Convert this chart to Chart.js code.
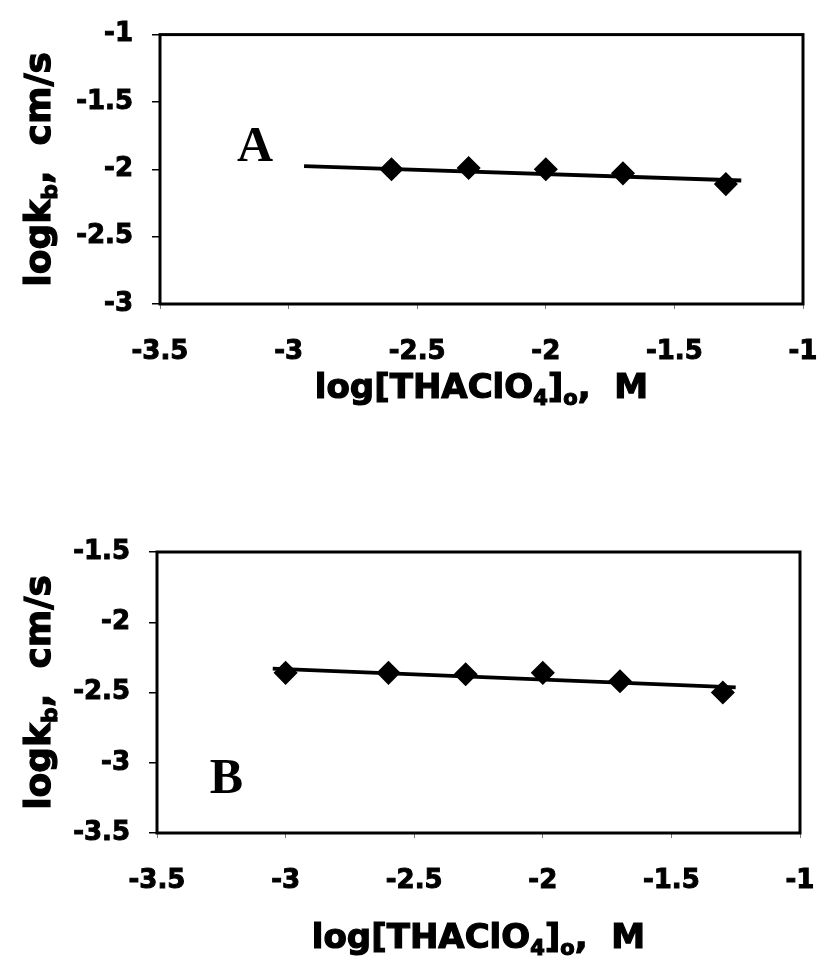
<!DOCTYPE html>
<html>
<head>
<meta charset="utf-8">
<script src="https://cdn.jsdelivr.net/npm/chart.js@4.4.1/dist/chart.umd.min.js"></script>
<style>
html, body { margin: 0; padding: 0; background: #fff; }
#wrap { position: relative; width: 820px; height: 962px; }
.panel { position: absolute; left: 0; width: 820px; }
</style>
</head>
<body>
<div id="wrap">
  <div class="panel" style="top:0;height:430px"><canvas id="chartA"></canvas></div>
  <div class="panel" style="top:480px;height:482px"><canvas id="chartB"></canvas></div>
</div>
<script>
// panel A data
const xA = [-2.6, -2.3, -2.0, -1.7, -1.3];
const yA = [-2.00, -1.99, -2.00, -2.03, -2.11];
const fitXA = [-2.94, -1.24];
const fitYA = [-1.976, -2.083];

// panel B data
const xB = [-3.0, -2.6, -2.3, -2.0, -1.7, -1.3];
const yB = [-2.36, -2.36, -2.37, -2.36, -2.42, -2.50];
const fitXB = [-3.05, -1.25];
const fitYB = [-2.33, -2.464];

// axis ranges / ticks
const xRange = [-3.5, -1];
const yRangeA = [-3, -1];
const yRangeB = [-3.5, -1.5];
const tickStep = 0.5;

const FAM = '"DejaVu Sans", sans-serif';
const xTitle = [{ t: 'log[THAClO' }, { t: '4', sub: true }, { t: ']' }, { t: 'o', sub: true }, { t: ',  M' }];
const yTitle = [{ t: 'logk' }, { t: 'b', sub: true }, { t: ',  cm/s' }];

function drawRich(ctx, parts, cx, baseY, size) {
  const fontOf = p => 'bold ' + Math.round(p.sub ? size * 0.62 : size) + 'px ' + FAM;
  let total = 0;
  parts.forEach(p => { ctx.font = fontOf(p); total += ctx.measureText(p.t).width; });
  let x = cx - total / 2;
  ctx.textAlign = 'left';
  ctx.textBaseline = 'alphabetic';
  ctx.fillStyle = '#000';
  ctx.strokeStyle = '#000';
  ctx.lineWidth = 1.2;
  parts.forEach(p => {
    ctx.font = fontOf(p);
    const y = baseY + (p.sub ? size * 0.2 : 0);
    ctx.fillText(p.t, x, y);
    ctx.strokeText(p.t, x, y);
    x += ctx.measureText(p.t).width;
  });
}

// frame box, panel letter and axis titles
const framePlugin = {
  id: 'frame',
  afterDraw(chart, args, opts) {
    const { ctx, chartArea: a, scales } = chart;
    ctx.save();
    ctx.strokeStyle = '#000';
    ctx.lineWidth = 3;
    ctx.strokeRect(a.left, a.top, a.right - a.left, a.bottom - a.top);

    ctx.font = 'bold 50px "Liberation Serif", serif';
    ctx.fillStyle = '#000';
    ctx.textAlign = 'center';
    ctx.textBaseline = 'middle';
    ctx.fillText(opts.letter, scales.x.getPixelForValue(opts.letterAt[0]), scales.y.getPixelForValue(opts.letterAt[1]));

    drawRich(ctx, xTitle, (a.left + a.right) / 2, opts.xTitleY, 34);

    ctx.translate(opts.yTitleX, (a.top + a.bottom) / 2);
    ctx.rotate(-Math.PI / 2);
    drawRich(ctx, yTitle, 0, 0, 36);
    ctx.restore();
  }
};

function pts(xs, ys) { return xs.map((x, i) => ({ x: x, y: ys[i] })); }
function fmt(v) { return String(Math.round(v * 10) / 10); }

function makeChart(id, xs, ys, fx, fy, yRange, cfg) {
  const tickFont = { family: FAM, weight: 'bold', size: 26 };
  return new Chart(document.getElementById(id), {
    type: 'scatter',
    data: {
      datasets: [
        { data: pts(xs, ys), pointStyle: 'rectRot', pointRadius: 11, backgroundColor: '#000', borderColor: '#000', borderWidth: 1.5, order: 1 },
        { type: 'line', data: pts(fx, fy), borderColor: '#000', borderWidth: 3.8, pointRadius: 0, fill: false, tension: 0, order: 2 }
      ]
    },
    options: {
      responsive: true,
      maintainAspectRatio: false,
      animation: false,
      events: [],
      layout: { padding: { left: 0, right: cfg.padRight, top: cfg.padTop, bottom: 0 } },
      plugins: {
        legend: { display: false },
        tooltip: { enabled: false },
        frame: { letter: cfg.letter, letterAt: cfg.letterAt, xTitleY: cfg.xTitleY, yTitleX: 50 }
      },
      scales: {
        x: {
          type: 'linear', min: xRange[0], max: xRange[1],
          afterFit: s => { s.height = cfg.xAxisH; s.paddingLeft = 0; s.paddingRight = 0; },
          ticks: { stepSize: tickStep, autoSkip: false, maxRotation: 0, padding: 28, color: '#000', font: tickFont,
                   textStrokeColor: '#000', textStrokeWidth: 1, callback: fmt },
          grid: { drawOnChartArea: false, tickLength: 5, color: '#777', lineWidth: 1 },
          border: { display: false }
        },
        y: {
          type: 'linear', min: yRange[0], max: yRange[1],
          afterFit: s => { s.width = cfg.yAxisW; },
          ticks: { stepSize: tickStep, autoSkip: false, padding: 19, color: '#000', font: tickFont,
                   textStrokeColor: '#000', textStrokeWidth: 1, callback: fmt },
          grid: { drawOnChartArea: false, tickLength: 8, color: '#000', lineWidth: 1.5 },
          border: { display: false }
        }
      }
    },
    plugins: [framePlugin]
  });
}

makeChart('chartA', xA, yA, fitXA, fitYA, yRangeA,
  { padTop: 27, padRight: 17, yAxisW: 160, xAxisH: 126, letter: 'A', letterAt: [-3.13, -1.84], xTitleY: 398 });
makeChart('chartB', xB, yB, fitXB, fitYB, yRangeB,
  { padTop: 72, padRight: 20, yAxisW: 157, xAxisH: 129, letter: 'B', letterAt: [-3.23, -3.12], xTitleY: 468 });
</script>
</body>
</html>
